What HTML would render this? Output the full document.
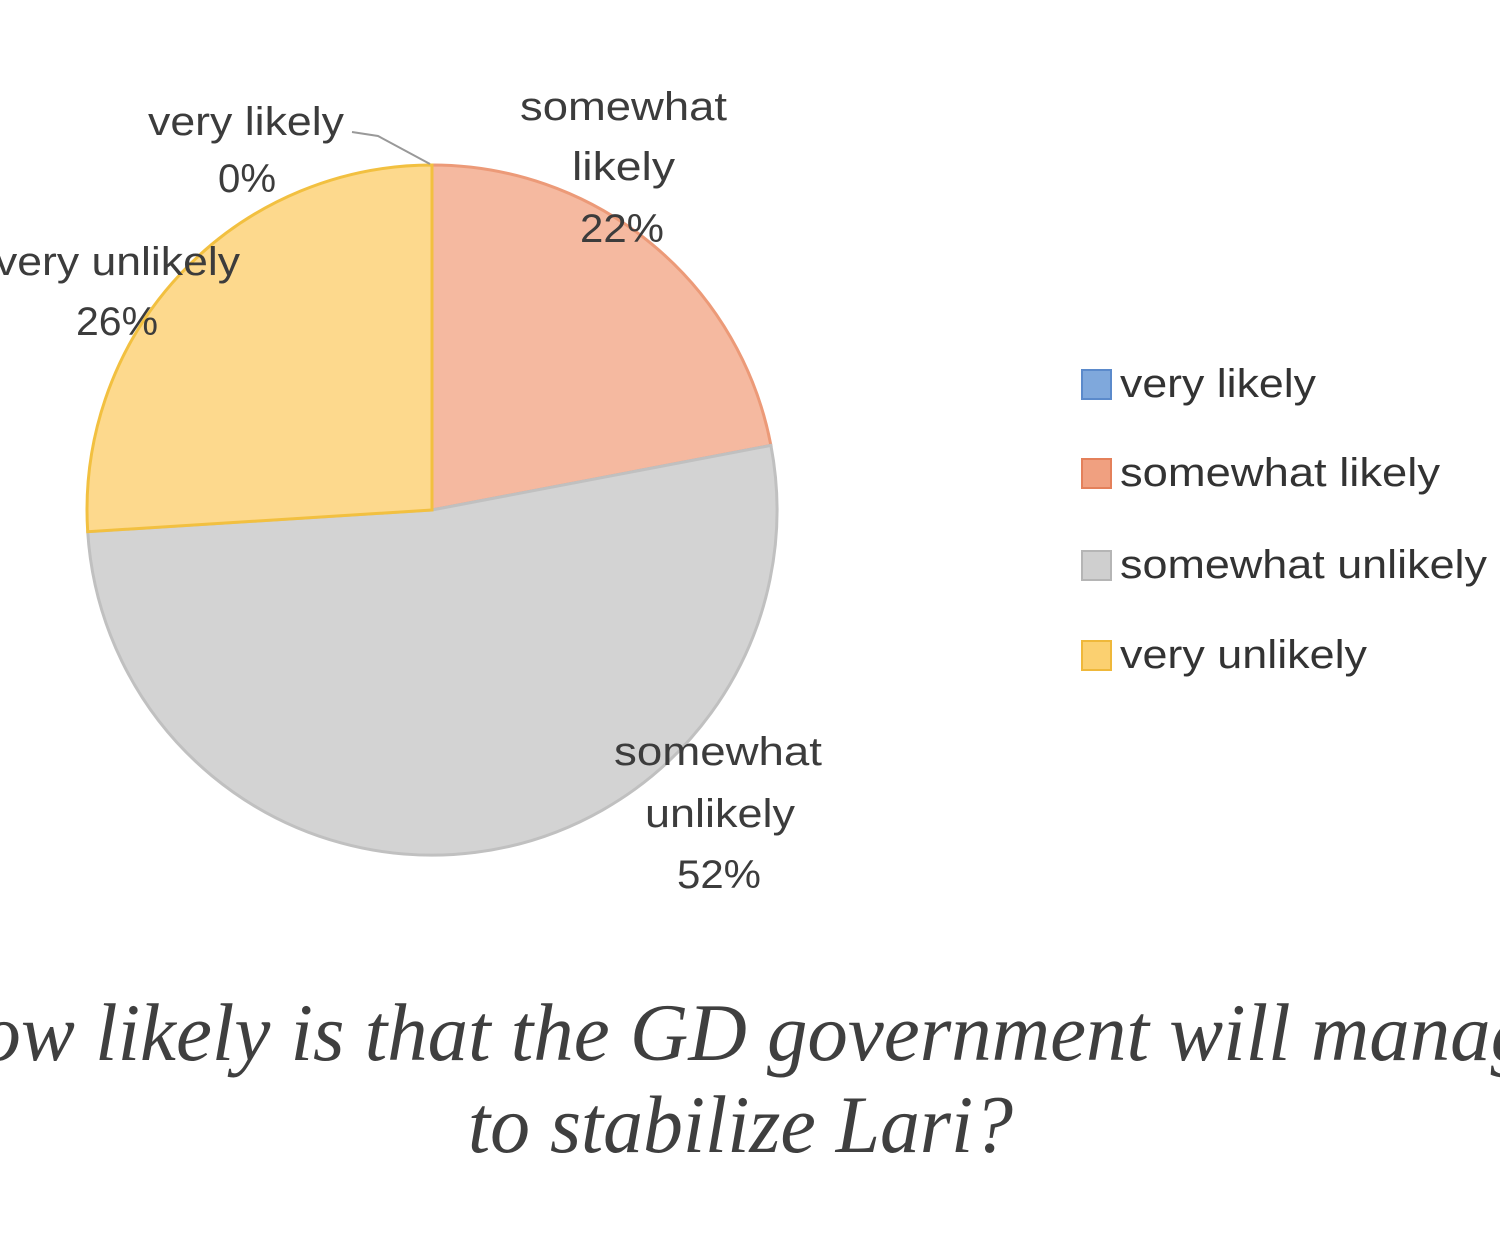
<!DOCTYPE html>
<html><head><meta charset="utf-8"><style>html,body{margin:0;padding:0;background:#fff;}svg{display:block}</style></head>
<body>
<svg width="1500" height="1250" viewBox="0 0 1500 1250" xmlns="http://www.w3.org/2000/svg">
<rect width="1500" height="1250" fill="#fff"/>
<g stroke-width="3">
<path d="M432,510 L432,165 A345,345 0 0 1 770.9,445.4 Z" fill="#F5B9A0" stroke="#EC9A78"/>
<path d="M432,510 L770.9,445.4 A345,345 0 1 1 87.7,531.7 Z" fill="#D3D3D3" stroke="#C0C0C0"/>
<path d="M432,510 L87.7,531.7 A345,345 0 0 1 432,165 Z" fill="#FDD98D" stroke="#F2C040"/>
</g>
<path d="M352,132 L378,136 L430,164" fill="none" stroke="#999" stroke-width="2"/>
<g font-family="Liberation Sans, DejaVu Sans, sans-serif" font-size="40" fill="#3c3c3c">
<text x="148" y="135" textLength="196" lengthAdjust="spacingAndGlyphs">very likely</text>
<text x="218" y="192" textLength="58" lengthAdjust="spacingAndGlyphs">0%</text>
<text x="520" y="120" textLength="207" lengthAdjust="spacingAndGlyphs">somewhat</text>
<text x="572" y="180" textLength="103" lengthAdjust="spacingAndGlyphs">likely</text>
<text x="580" y="242" textLength="84" lengthAdjust="spacingAndGlyphs">22%</text>
<text x="-5" y="275" textLength="245" lengthAdjust="spacingAndGlyphs">very unlikely</text>
<text x="76" y="335" textLength="82" lengthAdjust="spacingAndGlyphs">26%</text>
<text x="614" y="765" textLength="208" lengthAdjust="spacingAndGlyphs">somewhat</text>
<text x="645" y="827" textLength="150" lengthAdjust="spacingAndGlyphs">unlikely</text>
<text x="677" y="888" textLength="84" lengthAdjust="spacingAndGlyphs">52%</text>
</g>
<rect x="1082" y="370" width="29" height="29" fill="#7FA8DC" stroke="#5B8ACB" stroke-width="2"/>
<rect x="1082" y="459" width="29" height="29" fill="#F0A080" stroke="#E4805A" stroke-width="2"/>
<rect x="1082" y="551" width="29" height="29" fill="#CFCFCF" stroke="#B5B5B5" stroke-width="2"/>
<rect x="1082" y="641" width="29" height="29" fill="#FBD070" stroke="#EFB83A" stroke-width="2"/>
<g font-family="Liberation Sans, DejaVu Sans, sans-serif" font-size="40" fill="#333">
<text x="1120" y="397" textLength="196" lengthAdjust="spacingAndGlyphs">very likely</text>
<text x="1120" y="486" textLength="320" lengthAdjust="spacingAndGlyphs">somewhat likely</text>
<text x="1120" y="578" textLength="367" lengthAdjust="spacingAndGlyphs">somewhat unlikely</text>
<text x="1120" y="668" textLength="247" lengthAdjust="spacingAndGlyphs">very unlikely</text>
</g>
<g font-family="Liberation Serif, DejaVu Serif, serif" font-style="italic" font-size="82" fill="#3f3f3f">
<text x="-78" y="1060" textLength="1645" lengthAdjust="spacingAndGlyphs">How likely is that the GD government will manage</text>
<text x="468" y="1152" textLength="545" lengthAdjust="spacingAndGlyphs">to stabilize Lari?</text>
</g>
</svg>
</body></html>
